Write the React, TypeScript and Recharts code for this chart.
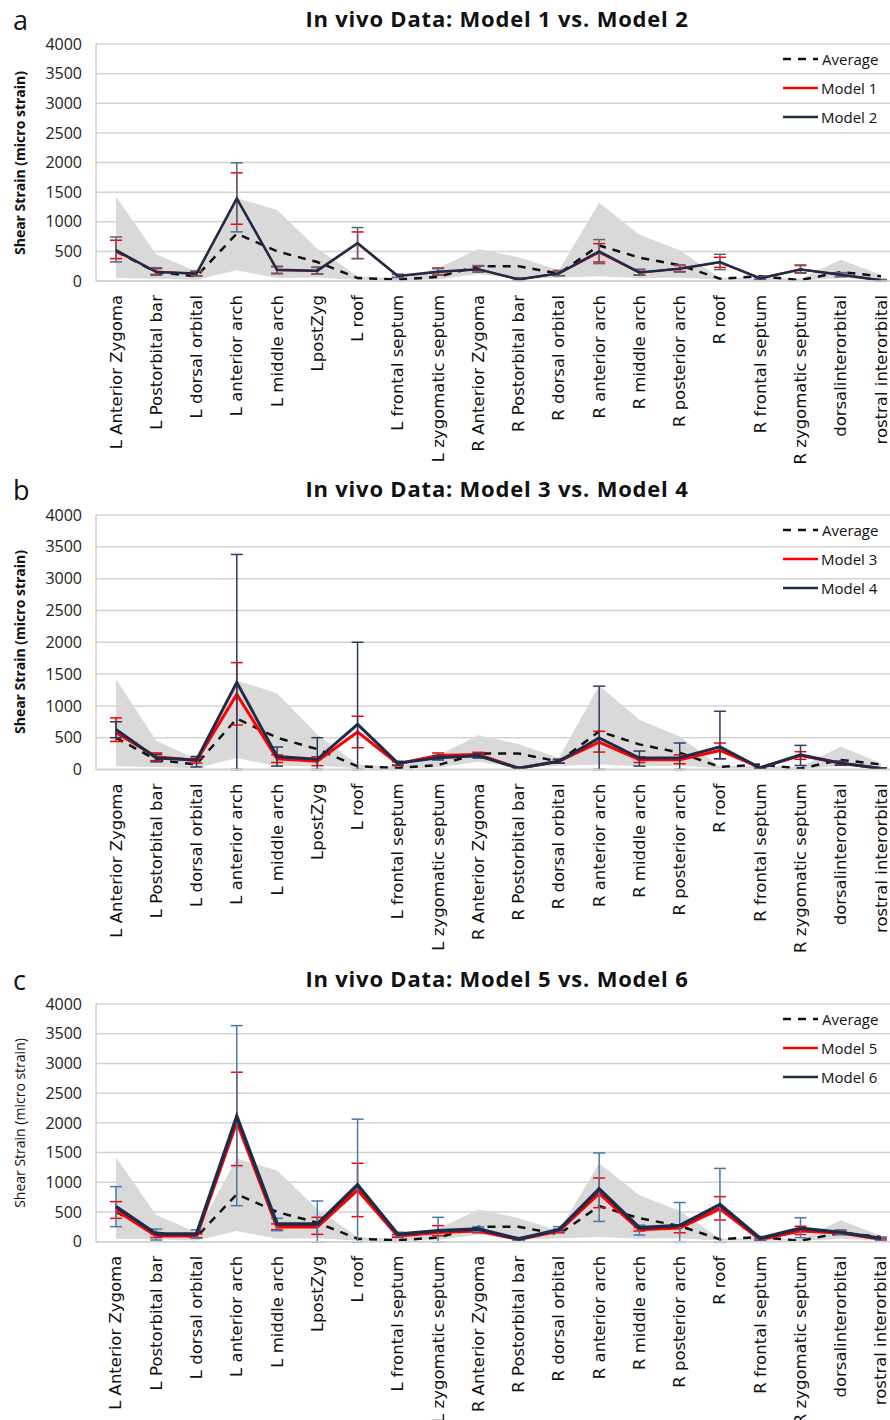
import { ComposedChart, Line, Area, XAxis, YAxis, CartesianGrid, ErrorBar } from 'recharts';

const categories = [
  'L Anterior Zygoma', 'L Postorbital bar', 'L dorsal orbital', 'L anterior arch', 'L middle arch',
  'LpostZyg', 'L roof', 'L frontal septum', 'L zygomatic septum', 'R Anterior Zygoma',
  'R Postorbital bar', 'R dorsal orbital', 'R anterior arch', 'R middle arch', 'R posterior arch',
  'R roof', 'R frontal septum', 'R zygomatic septum', 'dorsalinterorbital', 'rostral interorbital',
];
const yTicks = [0, 500, 1000, 1500, 2000, 2500, 3000, 3500, 4000];

// in vivo data, shared by all three panels
const average = [500, 150, 80, 800, 500, 320, 50, 25, 70, 250, 250, 125, 600, 395, 265, 40, 80, 15, 150, 80];
const rangeLow = [50, 40, 20, 180, 50, 60, 20, 10, 30, 120, 30, 60, 80, 50, 60, 20, 20, 10, 50, 20];
const rangeHigh = [1420, 450, 160, 1400, 1200, 550, 80, 40, 220, 540, 400, 180, 1320, 780, 520, 50, 60, 40, 360, 100];

// panel a
const model1 = [500, 160, 120, 1400, 180, 170, 630, 80, 150, 195, 30, 125, 480, 140, 210, 310, 50, 200, 110, 15];
const model1Low = [378, 110, 90, 958, 130, 120, 378, 60, 100, 150, 10, 90, 321, 100, 160, 230, 30, 140, 80, 5];
const model1High = [688, 210, 160, 1826, 240, 230, 828, 110, 220, 250, 50, 170, 631, 190, 270, 400, 70, 270, 140, 25];
const model2 = [520, 150, 125, 1390, 190, 175, 640, 85, 155, 200, 25, 130, 500, 145, 205, 320, 45, 195, 105, 10];
const model2Low = [321, 96, 85, 829, 120, 115, 378, 60, 110, 150, 10, 90, 293, 100, 150, 192, 25, 130, 70, 0];
const model2High = [744, 225, 170, 1995, 250, 235, 902, 115, 210, 260, 45, 180, 699, 200, 260, 451, 70, 260, 140, 25];

// panel b
const model3 = [580, 200, 140, 1180, 170, 130, 590, 90, 220, 235, 20, 130, 430, 155, 155, 300, 30, 220, 100, 15];
const model3Low = [440, 140, 100, 700, 110, 60, 342, 60, 180, 200, 5, 100, 274, 110, 90, 170, 15, 160, 70, 5];
const model3High = [812, 260, 180, 1680, 230, 200, 837, 120, 260, 270, 35, 160, 600, 200, 230, 416, 45, 280, 130, 25];
const model4 = [630, 180, 150, 1370, 205, 160, 710, 100, 185, 215, 20, 130, 495, 180, 185, 355, 25, 230, 100, 15];
const model4Low = [500, 120, 40, 0, 53, 0, 0, 70, 150, 180, 5, 100, 0, 53, 0, 168, 10, 63, 70, 5];
const model4High = [750, 240, 205, 3380, 353, 500, 2000, 130, 220, 250, 35, 160, 1310, 290, 416, 916, 40, 379, 130, 25];

// panel c
const model5 = [534, 101, 101, 2022, 253, 253, 871, 96, 157, 185, 40, 180, 815, 205, 233, 556, 40, 185, 150, 45];
const model5Low = [393, 70, 70, 1280, 200, 124, 421, 70, 100, 150, 20, 150, 573, 180, 150, 365, 20, 120, 120, 30];
const model5High = [674, 130, 130, 2852, 300, 410, 1320, 120, 270, 220, 60, 210, 1073, 240, 270, 758, 60, 260, 180, 60];
const model6 = [590, 129, 129, 2107, 298, 298, 955, 124, 185, 213, 45, 202, 888, 233, 272, 625, 56, 227, 157, 56];
const model6Low = [253, 28, 60, 606, 185, 0, 0, 90, 0, 170, 20, 170, 341, 112, 0, 0, 30, 68, 120, 30];
const model6High = [927, 213, 200, 3636, 393, 685, 2062, 160, 410, 250, 70, 253, 1494, 278, 659, 1233, 80, 404, 200, 80];

const FONT = '"Open Sans", sans-serif';
const TICK_FONT = '"DejaVu Sans", sans-serif';
const RED = '#ff0000';
const NAVY = '#1e2c4a';

const panels = [
  {
    letter: 'a', nameA: 'Model 1', nameB: 'Model 2', top: 0, height: 470, plotTop: 44, plotBottom: 281, axisH: 180,
    a: model1, aLow: model1Low, aHigh: model1High, b: model2, bLow: model2Low, bHigh: model2High,
    redW: 2, navyW: 2.5, errB: '#5a6680', boldLabel: true,
  },
  {
    letter: 'b', nameA: 'Model 3', nameB: 'Model 4', top: 470, height: 490, plotTop: 45, plotBottom: 299.5, axisH: 180,
    a: model3, aLow: model3Low, aHigh: model3High, b: model4, bLow: model4Low, bHigh: model4High,
    redW: 3, navyW: 3, errB: '#2b3d5e', boldLabel: true,
  },
  {
    letter: 'c', nameA: 'Model 5', nameB: 'Model 6', top: 960, height: 460, plotTop: 44, plotBottom: 281.7, axisH: 170,
    a: model5, aLow: model5Low, aHigh: model5High, b: model6, bLow: model6Low, bHigh: model6High,
    redW: 3.5, navyW: 3.5, errB: '#4a78aa', boldLabel: false,
  },
];

function CatTick({ x, y, payload }: any) {
  return (
    <text x={x} y={y + 6} transform={`rotate(-90, ${x}, ${y + 6})`} textAnchor="end" dominantBaseline="central"
      fontSize={16.5} fontFamily={TICK_FONT} fill="#111">
      {payload.value}
    </text>
  );
}

function LegendRow({ y, label, color, dashed }: { y: number, label: string, color: string, dashed?: boolean }) {
  return (
    <div style={{ position: 'absolute', left: 783, top: y - 11, height: 22, display: 'flex', alignItems: 'center' }}>
      <svg width={36} height={6}>
        <line x1={0} y1={3} x2={35} y2={3} stroke={color} strokeWidth={2.5} strokeDasharray={dashed ? '8 7' : undefined} />
      </svg>
      <span style={{ marginLeft: dashed ? 3 : 2, fontSize: 15, fontFamily: FONT, color: '#111', whiteSpace: 'nowrap' }}>{label}</span>
    </div>
  );
}

function Panel({ p }: { p: typeof panels[number] }) {
  const data = categories.map((name, i) => ({
    name,
    range: [rangeLow[i], rangeHigh[i]],
    avg: average[i],
    a: p.a[i],
    aErr: [p.a[i] - p.aLow[i], p.aHigh[i] - p.a[i]],
    b: p.b[i],
    bErr: [p.b[i] - p.bLow[i], p.bHigh[i] - p.b[i]],
  }));
  const bottom = p.height - p.plotBottom - p.axisH;
  const midY = (p.plotTop + p.plotBottom) / 2;

  return (
    <div style={{ position: 'absolute', left: 0, top: p.top, width: 890, height: p.height }}>
      <div style={{ position: 'absolute', left: 13, top: 5, fontSize: 27, fontFamily: FONT, lineHeight: '30px', color: '#111' }}>{p.letter}</div>
      <div style={{ position: 'absolute', left: 0, width: 994, top: 3, textAlign: 'center', fontSize: 22, letterSpacing: 0.8, fontWeight: 700, fontFamily: FONT, lineHeight: '30px', color: '#111' }}>
        In vivo Data: {p.nameA} vs. {p.nameB}
      </div>
      <div style={{ position: 'absolute', left: 19, top: midY, transform: 'translate(-50%, -50%) rotate(-90deg)', whiteSpace: 'nowrap', fontSize: 14, fontWeight: p.boldLabel ? 700 : 400, fontFamily: FONT, color: '#111' }}>
        Shear Strain (micro strain)
      </div>
      <ComposedChart width={890} height={p.height} data={data} margin={{ top: p.plotTop, right: 0, bottom, left: 0 }}>
        <CartesianGrid vertical={false} stroke="#d3d3d3" strokeWidth={1.5} />
        <XAxis dataKey="name" scale="point" interval={0} padding={{ left: 20, right: 9 }} height={p.axisH}
          tick={<CatTick />} tickLine={false} axisLine={{ stroke: '#cfcfcf', strokeWidth: 1.5 }} />
        <YAxis type="number" domain={[0, 4000]} ticks={yTicks} width={96} tickLine={false} tickMargin={8}
          axisLine={{ stroke: '#cfcfcf', strokeWidth: 1.5 }} tick={{ fontSize: 16, fontFamily: FONT, fill: '#222' }} />
        <Area dataKey="range" stroke="none" fill="#d9d9d9" fillOpacity={1} isAnimationActive={false} />
        <Line dataKey="avg" stroke="#111" strokeWidth={2.5} strokeDasharray="8 7" dot={false} isAnimationActive={false} />
        <Line dataKey="a" stroke={RED} strokeWidth={p.redW} dot={false} isAnimationActive={false}>
          <ErrorBar dataKey="aErr" width={6} stroke={RED} strokeWidth={1.5} direction="y" />
        </Line>
        <Line dataKey="b" stroke={NAVY} strokeWidth={p.navyW} dot={false} isAnimationActive={false}>
          <ErrorBar dataKey="bErr" width={6} stroke={p.errB} strokeWidth={1.5} direction="y" />
        </Line>
      </ComposedChart>
      <LegendRow y={p.plotTop + 15} label="Average" color="#111" dashed />
      <LegendRow y={p.plotTop + 44} label={p.nameA} color={RED} />
      <LegendRow y={p.plotTop + 73} label={p.nameB} color={NAVY} />
    </div>
  );
}

export default function App() {
  return (
    <div style={{ position: 'absolute', left: 0, top: 0, width: 890, height: 1420, background: '#fff', overflow: 'hidden' }}>
      {panels.map(p => <Panel key={p.letter} p={p} />)}
    </div>
  );
}
